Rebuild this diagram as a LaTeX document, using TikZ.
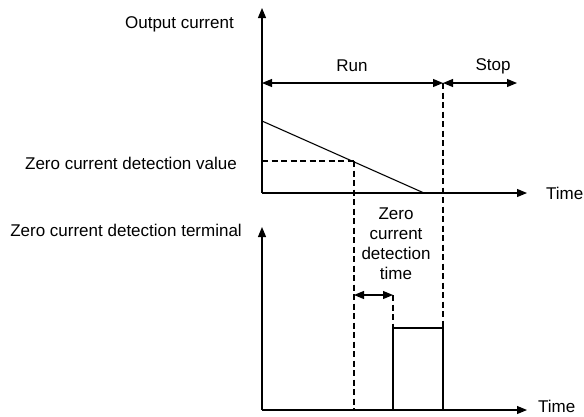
\documentclass[tikz,border=0pt]{standalone}
\usepackage{fontspec}
\setmainfont{Liberation Sans}
\usetikzlibrary{arrows.meta}
\begin{document}
\begin{tikzpicture}[x=1pt,y=-1pt,
  lbl/.style={inner sep=0pt,font=\fontsize{17}{20}\selectfont},
  axis/.style={line width=1.1pt,-{Triangle[length=10pt,width=8pt]}},
  dbl/.style={line width=1.1pt,{Triangle[length=10pt,width=8pt]}-{Triangle[length=10pt,width=8pt]}},
  sig/.style={line width=1.1pt},
  dsh/.style={line width=1.1pt,dash pattern=on 6pt off 3.5pt}]
\useasboundingbox (0,0) rectangle (584,416);
% top graph
\coordinate (o1) at (262,193);
\coordinate (y1) at (262,8);
\coordinate (x1) at (527,193);
\draw[axis] (o1) -- (y1);
\draw[axis] (o1) -- (x1);
\node[lbl,anchor=east] (oc) at (234,24) {Output current};
\node[lbl,anchor=west] (t1) at (546,193) {Time};
\node[lbl,anchor=east] (zv) at (237,163) {Zero current detection value};
% run / stop
\coordinate (rs) at (262,83);
\coordinate (re) at (443,83);
\coordinate (se) at (517,83);
\draw[dbl] (rs) -- (re);
\draw[dbl] (re) -- (se);
\node[lbl] (run) at (352,66) {Run};
\node[lbl] (stop) at (493,66) {Stop};
% slope
\coordinate (s0) at (262,121);
\coordinate (s1) at (424,193);
\coordinate (zd) at (354,161);
\draw[sig] (s0) -- (s1);
\draw[dsh] (262,161) -- (zd);
% bottom graph
\coordinate (o2) at (262,410);
\coordinate (y2) at (262,227);
\coordinate (x2) at (527,410);
\draw[axis] (o2) -- (y2);
\draw[axis] (o2) -- (x2);
\node[lbl,anchor=east] (zt) at (242,230) {Zero current detection terminal};
\node[lbl,anchor=west] (t2) at (538,406) {Time};
% dashed verticals
\coordinate (zb) at (354,410);
\coordinate (rb) at (443,410);
\draw[dsh] (zd) -- (zb);
\draw[dsh] (re) -- (rb);
% pulse
\coordinate (p0) at (393,410);
\coordinate (p1) at (393,328);
\coordinate (p2) at (443,328);
\draw[sig] (p0) -- (p1) -- (p2) -- (rb);
\coordinate (da) at (354,295);
\coordinate (db) at (393,295);
\draw[dsh] (db) -- (p1);
\draw[dbl] (da) -- (db);
\node[lbl,align=center] (zdt) at (396,244) {Zero\\current\\detection\\time};
\end{tikzpicture}
\end{document}
